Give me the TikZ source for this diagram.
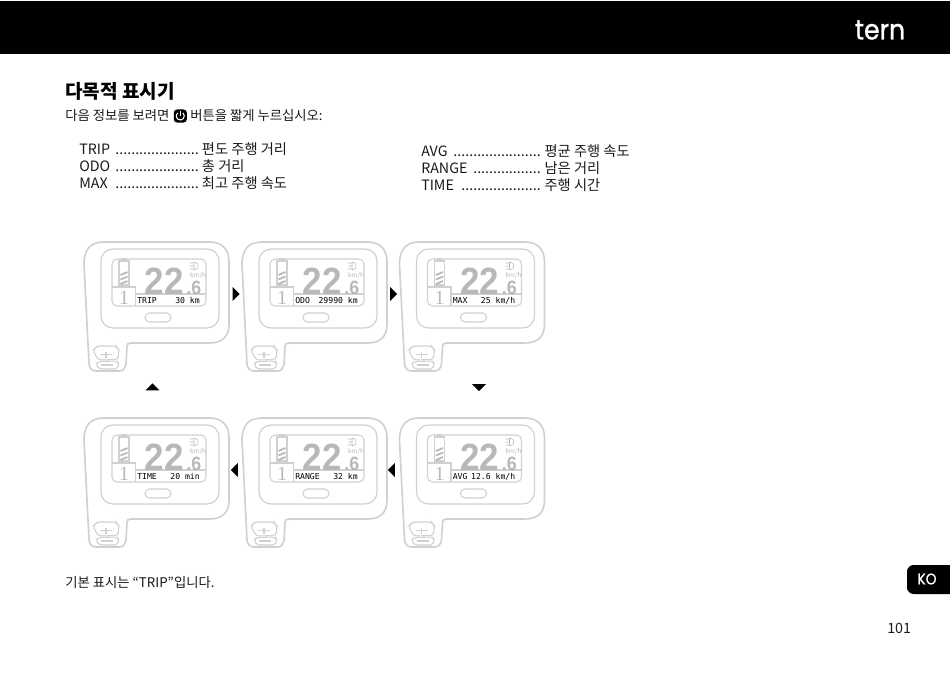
\documentclass[tikz,border=0pt]{standalone}
\usepackage{fontspec}
\usepackage{xcolor}
\setmainfont{Noto Sans CJK KR}
\newfontfamily\lcdfont{DejaVu Sans Mono}
\newfontfamily\digitfont{Liberation Sans}[FakeStretch=0.92]
\newfontfamily\gearfont{Liberation Serif}
\newfontfamily\logofont{Poppins}[FakeStretch=0.9,FakeBold=1]
\usetikzlibrary{shapes.geometric, positioning}
\definecolor{shell}{HTML}{D0D0D0}
\definecolor{lcdgray}{HTML}{B8B8B8}
\tikzstyle{plain} = [inner sep=0pt, anchor=west, text=black!90]
\tikzstyle{keyrow} = [plain, text width=89.6pt, font=\fontsize{10.7}{12}\selectfont]
\tikzstyle{valrow} = [inner sep=0pt, text=black!90, font=\fontsize{10.7}{12}\selectfont]
\tikzstyle{stepmark} = [isosceles triangle, isosceles triangle apex angle=90, fill=black, inner sep=0pt, minimum height=5.2pt]
\tikzstyle{shellline} = [draw=shell, line width=1.2pt]
\tikzstyle{lcdline} = [draw=shell, line width=0.8pt]
\tikzstyle{lcdtext} = [inner sep=0pt, text=black, font=\lcdfont\fontsize{6.1}{7}\selectfont]

\newcommand{\lcdpanel}[5]{
  \begin{scope}[shift={(#2,#3)}]
    \draw [shellline] (0,22) .. controls (0,7) and (7,0) .. (20,0) -- (125,0)
      .. controls (138,0) and (145,7) .. (145,20) -- (145,82)
      .. controls (145,95) and (138,101) .. (125,101) -- (47,101)
      .. controls (44,101) and (43,102) .. (43,105) -- (42,122)
      .. controls (41,127) and (39,129) .. (35,129) -- (12,129)
      .. controls (8,129) and (6,127) .. (5,122) -- cycle;
    \draw [shellline, line width=0.9pt, rounded corners=12*0.75pt] (17,7) rectangle (135,86);
    \draw [lcdline, rounded corners=5*0.75pt] (28,17) rectangle (122,64);
    \draw [lcdline, rounded corners=4.5*0.75pt] (61,71) rectangle (87,80);
    % gear box and divider
    \draw [lcdline] (28,45) -- (51.5,45) -- (51.5,64);
    \draw [lcdline] (51.5,52) -- (122,52);
    \node (#1gear) [inner sep=0pt, text=lcdgray, font=\gearfont\fontsize{15}{15}\selectfont] at (40,56) {1};
    % battery
    \draw [lcdline, fill=white] (35,19) rectangle (45,43);
    \draw [lcdline] (38,19) -- (38,17) -- (42,17) -- (42,19);
    \draw [lcdgray, line width=1.3pt] (36.5,33) -- (43.5,30) (36.5,37.5) -- (43.5,34.5) (36.5,42) -- (43.5,39);
    % reading
    \node (#1big) [inner sep=0pt, anchor=base east, text=lcdgray, font=\digitfont\bfseries\fontsize{28.5}{29}\selectfont] at (100,52) {22};
    \node (#1frac) [inner sep=0pt, anchor=base east, text=lcdgray, font=\digitfont\bfseries\fontsize{14.5}{15}\selectfont] at (117.5,52) {.6};
    \node (#1unit) [inner sep=0pt, text=lcdgray, font=\fontsize{4.8}{5}\selectfont] at (114,34) {km/h};
    \draw [lcdgray, line width=0.4pt] (106,21) -- (109,21) (106,24) -- (109,24) (106,27) -- (109,27)
      (110,20.5) -- (111.5,20.5) .. controls (115,20.5) and (115,27.5) .. (111.5,27.5) -- (110,27.5) -- cycle;
    \node (#1name) [lcdtext, anchor=base west] at (53,61) {#4};
    \node (#1value) [lcdtext, anchor=base east] at (116,61) {#5};
    % handlebar switch
    \draw [lcdline, rounded corners=3*0.75pt] (9,108) -- (13,104) -- (32,104) -- (35,108) -- (34,117.5) -- (14,118) -- cycle;
    \draw [lcdline, rounded corners=2*0.75pt] (12,122) -- (15,119.5) -- (33,119) -- (35,122) -- (33,127) -- (15,127) -- cycle;
    \draw [lcdline] (16,112.5) -- (28,112.5) (22,109.5) -- (22,115.5) (17,123) -- (29,123);
  \end{scope}
}

\begin{document}
\begin{tikzpicture}[x=0.75pt, y=-0.75pt]
    \useasboundingbox (0,0) rectangle (950,675);
    % page furniture
    \node (band) [fill=black, inner sep=0pt, minimum width=712.5pt, minimum height=39.8pt, anchor=north west] at (0,1) {};
    \node (logo) [inner sep=0pt, text=white, font=\logofont\fontsize{21}{22}\selectfont] at (880,30) {tern};
    \fill [black, rounded corners=5pt] (907,565) rectangle (960,594);
    \node (lang) [inner sep=0pt, text=white, font=\logofont\fontsize{11.5}{12}\selectfont] at (927,579) {KO};
    \node (pagenum) [plain, font=\fontsize{10.7}{12}\selectfont] at (887,628) {101};

    % heading and intro
    \node (title) [plain, text=black, font=\fontsize{14.3}{16}\selectfont\bfseries] at (65,91) {다목적 표시기};
    \node (intro) [plain, font=\fontsize{10}{12}\selectfont] at (65,116) {다음 정보를 보려면};
    \node (powerkey) [fill=black, rounded corners=2.5pt, minimum size=9.8pt, inner sep=0pt, right=2.9pt of intro] {};
    \draw [white, line width=0.8pt] (powerkey.center) ++(-50:4) arc (-50:230:4);
    \draw [white, line width=0.8pt] (powerkey.center) ++(0,-5) -- ++(0,5);
    \node (introend) [plain, font=\fontsize{10}{12}\selectfont, right=2.2pt of powerkey] {버튼을 짧게 누르십시오:};

    % left list
    \node (trip) [keyrow] at (79,149) {TRIP\hfill .....................};
    \node (tripval) [valrow, base right=2pt of trip] {편도 주행 거리};
    \node (odo) [keyrow] at (79,166) {ODO\hfill .....................};
    \node (odoval) [valrow, base right=2pt of odo] {총 거리};
    \node (max) [keyrow] at (79,183) {MAX\hfill .....................};
    \node (maxval) [valrow, base right=2pt of max] {최고 주행 속도};

    % right list
    \node (avg) [keyrow] at (421,151) {AVG\hfill ......................};
    \node (avgval) [valrow, base right=2.5pt of avg] {평균 주행 속도};
    \node (range) [keyrow] at (421,168) {RANGE\hfill .................};
    \node (rangeval) [valrow, base right=2.5pt of range] {남은 거리};
    \node (time) [keyrow] at (421,185) {TIME\hfill ....................};
    \node (timeval) [valrow, base right=2.5pt of time] {주행 시간};

    % displays
    \lcdpanel{trip}{84}{242}{TRIP}{30 km}
    \lcdpanel{odo}{242}{242}{ODO}{29990 km}
    \lcdpanel{max}{399.5}{242}{MAX}{25 km/h}
    \lcdpanel{time}{84}{418}{TIME}{20 min}
    \lcdpanel{range}{242}{418}{RANGE}{32 km}
    \lcdpanel{avg}{399.5}{418}{AVG}{12.6 km/h}

    % order marks
    \node (markA) [stepmark] at (235.5,294) {};
    \node (markB) [stepmark] at (393,294) {};
    \node (markC) [stepmark, rotate=-90] at (479,387) {};
    \node (markD) [stepmark, rotate=180] at (392,470) {};
    \node (markE) [stepmark, rotate=180] at (235,470) {};
    \node (markF) [stepmark, rotate=90] at (152.5,387.5) {};

    \node (note) [plain, font=\fontsize{10}{12}\selectfont] at (65,583) {기본 표시는 “TRIP”입니다.};
\end{tikzpicture}
\end{document}
